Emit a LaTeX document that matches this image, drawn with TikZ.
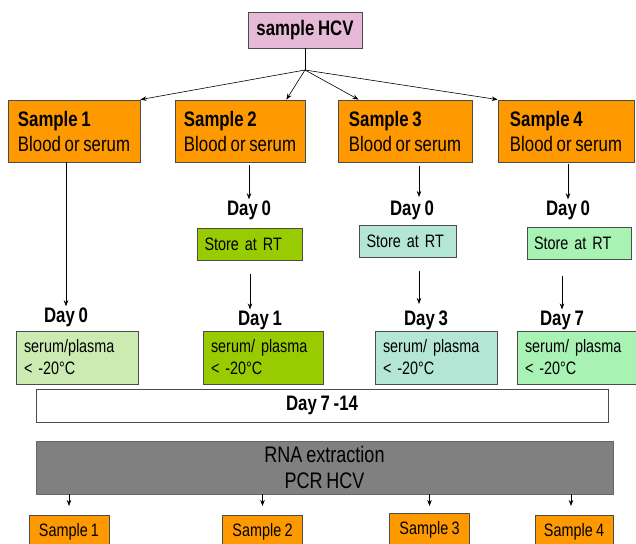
\documentclass[tikz,border=0pt]{standalone}
\usepackage{fontspec}
\setmainfont[FakeStretch=0.8,WordSpace=0.8]{Liberation Sans}
\usetikzlibrary{arrows.meta}
\definecolor{hcvpink}{RGB}{230,185,215}
\definecolor{sampleorange}{RGB}{255,153,0}
\definecolor{rtgreen}{RGB}{153,204,0}
\definecolor{rtteal}{RGB}{180,230,214}
\definecolor{rtmint}{RGB}{168,242,180}
\definecolor{dayzero}{RGB}{204,235,179}
\definecolor{pcrgray}{RGB}{128,128,128}

\begin{document}
\begin{tikzpicture}[x=1pt,y=-1pt,
  box/.style={draw=black!70,line width=0.8pt,inner sep=0pt},
  hcvbox/.style={box,fill=hcvpink,minimum width=114pt,minimum height=36pt,font=\fontsize{21}{24}\selectfont\bfseries},
  samplebox/.style={box,fill=sampleorange,minimum height=62pt,align=left,font=\fontsize{21}{25}\selectfont},
  daylbl/.style={inner sep=1pt,font=\fontsize{21}{24}\selectfont\bfseries},
  storebox/.style={box,inner xsep=7pt,minimum height=32pt,align=left,font=\fontsize{18}{22}\selectfont},
  serumbox/.style={box,inner xsep=8pt,minimum height=53pt,align=left,font=\fontsize{18}{22}\selectfont},
  pcrbox/.style={box,minimum height=53pt,align=center,font=\fontsize{22.5}{26}\selectfont},
  endbox/.style={box,fill=sampleorange,minimum width=80pt,minimum height=33pt,anchor=north,font=\fontsize{18}{22}\selectfont},
  arr/.style={-{Stealth[length=6pt,width=4.5pt]},line width=0.6pt}]
\clip (0,0) rectangle (636,543);
\node[hcvbox] (hcv) at (305,30) {sample HCV};
\coordinate (split) at (305,70);
\node[samplebox,minimum width=132pt] (s1) at (74,131) {\textbf{Sample 1}\\Blood or serum};
\node[samplebox,minimum width=130pt] (s2) at (240,131) {\textbf{Sample 2}\\Blood or serum};
\node[samplebox,minimum width=134pt] (s3) at (405,131) {\textbf{Sample 3}\\Blood or serum};
\node[samplebox,minimum width=136pt] (s4) at (566,131) {\textbf{Sample 4}\\Blood or serum};
\draw[line width=0.6pt] (hcv) -- (split);
\draw[arr] (split) -- (s1.north east);
\draw[arr] (split) -- ([xshift=-19pt]s2.north east);
\draw[arr] (split) -- ([xshift=21pt]s3.north west);
\draw[arr] (split) -- (s4.north west);
\node[daylbl] (d2a) at (249,210) {Day 0};
\node[daylbl] (d3a) at (412,210) {Day 0};
\node[daylbl] (d4a) at (568,210) {Day 0};
\coordinate (tip3a) at (419,197);
\draw[arr,shorten <=3pt] (s2.south -| d2a) -- (d2a.north);
\draw[arr,shorten <=4pt] (s3.south -| tip3a) -- (tip3a);
\draw[arr,shorten <=2pt] (s4.south -| d4a) -- (d4a.north);
\node[storebox,fill=rtgreen,text width=91pt] (st2) at (250,244) {Store at RT};
\node[storebox,fill=rtteal,text width=83pt] (st3) at (408,241) {Store at RT};
\node[storebox,fill=rtmint,text width=90pt] (st4) at (579,243) {Store at RT};
\node[daylbl] (d1b) at (66,317) {Day 0};
\node[daylbl] (d2b) at (260,320) {Day 1};
\node[daylbl] (d3b) at (426,320) {Day 3};
\node[daylbl] (d4b) at (562,320) {Day 7};
\coordinate (tip3b) at (419,304);
\draw[arr] (s1.south -| d1b) -- (d1b.north);
\draw[arr,shorten <=14pt] (st2.south) -- (st2.south |- d2b.north);
\draw[arr,shorten <=14pt] (st3.south -| tip3b) -- (tip3b);
\draw[arr,shorten <=17pt] (st4.south -| d4b) -- (d4b.north);
\node[serumbox,fill=dayzero,minimum width=122pt,text width=106pt] (sv1) at (77,357.5) {serum/plasma\\< -20°C};
\node[serumbox,fill=rtgreen,minimum width=120pt,text width=104pt] (sv2) at (263,357.5) {serum/ plasma\\< -20°C};
\node[serumbox,fill=rtteal,minimum width=122pt,text width=106pt] (sv3) at (436,357.5) {serum/ plasma\\< -20°C};
\node[serumbox,fill=rtmint,minimum width=122pt,text width=106pt] (sv4) at (578,357.5) {serum/ plasma\\< -20°C};
\node[box,fill=white,minimum width=572pt,minimum height=33pt,font=\fontsize{21}{24}\selectfont\bfseries] (wait) at (322,405.5) {Day 7 -14};
\node[pcrbox,fill=pcrgray,draw=black!60,minimum width=577pt] (pcr) at (324.5,467.5) {RNA extraction\\PCR HCV};
\node[endbox] (b1) at (69,515) {Sample 1};
\node[endbox] (b2) at (262.5,515) {Sample 2};
\node[endbox] (b3) at (429.5,513) {Sample 3};
\node[endbox,minimum width=78pt] (b4) at (574,515) {Sample 4};
\coordinate (tip4c) at (571,506);
\draw[arr,shorten >=9pt] (pcr.south -| b1) -- (b1.north);
\draw[arr,shorten >=9pt] (pcr.south -| b2) -- (b2.north);
\draw[arr,shorten >=7pt] (pcr.south -| b3) -- (b3.north);
\draw[arr] (pcr.south -| tip4c) -- (tip4c);
\end{tikzpicture}
\end{document}
